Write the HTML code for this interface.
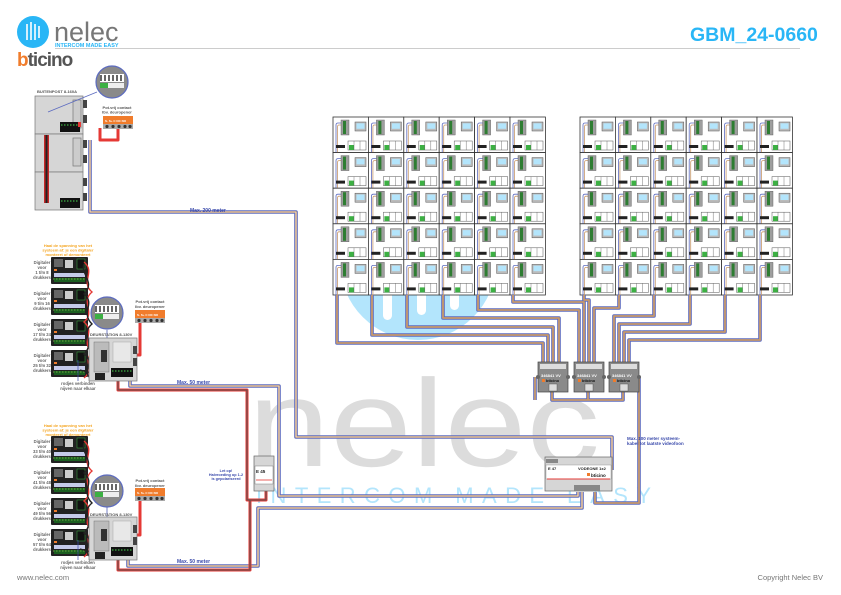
<!DOCTYPE html>
<html><head><meta charset="utf-8"><style>
html,body{margin:0;padding:0;background:#fff;width:841px;height:595px;overflow:hidden}
svg{display:block;font-family:"Liberation Sans",sans-serif}
</style></head><body>
<svg width="841" height="595" viewBox="0 0 841 595" xmlns="http://www.w3.org/2000/svg">
<defs>
<g id="cell">
  <rect x="0" y="0" width="35.4" height="35.6" fill="#fff" stroke="#333" stroke-width="0.8"/>
  <path d="M9 6 H5 Q3 6 3 8 V36" fill="none" stroke="#5c6bc0" stroke-width="0.8"/>
  <path d="M9 8 H6 Q4.5 8 4.5 10 V36" fill="none" stroke="#c8996b" stroke-width="0.8"/>
  <rect x="8" y="3" width="8" height="15" fill="#9e9e9e" stroke="#555" stroke-width="0.4"/>
  <rect x="10" y="4" width="3" height="13" fill="#2e7d32"/>
  <rect x="22" y="5" width="11" height="9" fill="#bbb" stroke="#555" stroke-width="0.5"/>
  <rect x="23.5" y="6.3" width="8" height="5.5" fill="#b3e5fc"/>
  <rect x="3" y="28" width="9" height="3" fill="#222"/>
  <rect x="15" y="24" width="18" height="9" fill="#fff" stroke="#555" stroke-width="0.5"/>
  <rect x="16" y="28" width="5" height="5" fill="#3cb043"/>
  <line x1="21" y1="24" x2="21" y2="33" stroke="#555" stroke-width="0.4"/>
  <line x1="27" y1="24" x2="27" y2="33" stroke="#555" stroke-width="0.4"/>
</g>
<g id="dig">
  <rect x="0" y="0" width="37" height="27" fill="#222" rx="1"/>
  <rect x="3" y="2" width="9" height="8" fill="#666"/>
  <rect x="14" y="3" width="8" height="8" fill="#ccc"/>
  <rect x="26" y="2" width="8" height="10" fill="#111" stroke="#3cb043" stroke-width="0.5"/>
  <rect x="3" y="12" width="3" height="2" fill="#f07c2c"/>
  <rect x="3" y="16" width="31" height="4" fill="#c5cae9"/>
  <rect x="3" y="21" width="31" height="4" fill="#1b5e20"/>
  <path d="M2 22 H35" stroke="#8bc34a" stroke-width="0.7" stroke-dasharray="1.5 1.5"/>
</g>
<g id="deur">
  <rect x="0" y="0" width="48" height="43" fill="#d6d6d6" stroke="#777" stroke-width="0.7"/>
  <rect x="5" y="4" width="15" height="30" fill="#bbb" stroke="#777" stroke-width="0.5"/>
  <rect x="12" y="12" width="6" height="12" fill="#333"/>
  <rect x="24" y="4" width="18" height="20" fill="#e8e8e8" stroke="#999" stroke-width="0.4"/>
  <rect x="44" y="8" width="4" height="8" fill="#444"/>
  <rect x="44" y="20" width="4" height="8" fill="#444"/>
  <rect x="22" y="30" width="22" height="9" fill="#111"/>
  <path d="M23 33 H43" stroke="#3cb043" stroke-width="1.2" stroke-dasharray="1.5 1.5"/>
  <rect x="6" y="35" width="10" height="7" fill="#222"/>
</g>
<g id="contact">
  <rect x="0" y="0" width="30" height="13" fill="#f07c2c"/>
  <rect x="0" y="8" width="30" height="5" fill="#aaa"/>
  <circle cx="4" cy="10.5" r="1.6" fill="#333"/><circle cx="10" cy="10.5" r="1.6" fill="#333"/><circle cx="16" cy="10.5" r="1.6" fill="#333"/><circle cx="22" cy="10.5" r="1.6" fill="#333"/><circle cx="27" cy="10.5" r="1.6" fill="#333"/>
  <text x="2" y="6" font-size="3" fill="#fff" font-weight="bold">S- S+ C NC NO</text>
</g>
<g id="mag">
  <circle cx="0" cy="0" r="16" fill="#8a8a8a" stroke="#5c6bc0" stroke-width="1.2"/>
  <rect x="-12" y="-8" width="24" height="8" fill="#fff"/>
  <path d="M-11 -7 v6 M-7 -7 v6 M-3 -7 v6 M1 -7 v6 M5 -7 v6 M9 -7 v6" stroke="#333" stroke-width="1.5"/>
  <rect x="-12" y="1" width="24" height="5" fill="#eee"/>
  <rect x="-12" y="1" width="8" height="5" fill="#3cb043"/>
</g>
<g id="dist">
  <rect x="0" y="0" width="30" height="30" fill="#8a8a8a" stroke="#444" stroke-width="0.7"/>
  <rect x="2" y="2" width="26" height="5" fill="#ddd"/>
  <text x="3" y="15" font-size="4" fill="#fff" font-weight="bold">346841 VV</text>
  <rect x="4" y="17" width="3" height="3" fill="#f07c2c"/>
  <text x="8" y="20" font-size="4" fill="#111" font-weight="bold">bticino</text>
  <rect x="11" y="22" width="8" height="7" fill="#ddd" stroke="#444" stroke-width="0.4"/>
  <circle cx="0" cy="15" r="2" fill="#666"/><circle cx="30" cy="15" r="2" fill="#666"/>
</g>
</defs>

<!-- watermark -->
<circle cx="418" cy="262" r="78" fill="#b3e5fc"/>
<rect x="383" y="270" width="9" height="50" rx="4.5" fill="#fff"/>
<rect x="417" y="270" width="9" height="45" rx="4.5" fill="#fff"/>
<rect x="450" y="270" width="9" height="40" rx="4.5" fill="#fff"/>
<text x="248" y="466" font-size="124" fill="#dcdcdc" textLength="352" lengthAdjust="spacingAndGlyphs">nelec</text>
<text x="256" y="503" font-size="22" fill="#b3e5fc" textLength="395" lengthAdjust="spacing">INTERCOM MADE EASY</text>

<!-- header -->
<circle cx="33" cy="32" r="16" fill="#29b6f6"/>
<path d="M27 24 v16 M31 22 v18 M35 24 v16 M39 26 v12" stroke="#fff" stroke-width="1.6"/>
<text x="54" y="41" font-size="27" fill="#777">nelec</text>
<text x="55" y="47" font-size="5.5" font-weight="bold" fill="#29b6f6">INTERCOM MADE EASY</text>
<line x1="55" y1="48.5" x2="800" y2="48.5" stroke="#bbb" stroke-width="0.8"/>
<text x="17" y="66" font-size="19" font-weight="bold" fill="#555" letter-spacing="-1"><tspan fill="#f07c2c">b</tspan>ticino</text>
<text x="690" y="41" font-size="19.5" font-weight="bold" fill="#29b6f6">GBM_24-0660</text>
<text x="17" y="580" font-size="7.5" fill="#777">www.nelec.com</text>
<text x="823" y="580" font-size="7.5" fill="#777" text-anchor="end">Copyright Nelec BV</text>

<!-- grids -->
<g>
<use href="#cell" x="333" y="117"/><use href="#cell" x="368.4" y="117"/><use href="#cell" x="403.8" y="117"/><use href="#cell" x="439.2" y="117"/><use href="#cell" x="474.6" y="117"/><use href="#cell" x="510" y="117"/>
<use href="#cell" x="333" y="152.6"/><use href="#cell" x="368.4" y="152.6"/><use href="#cell" x="403.8" y="152.6"/><use href="#cell" x="439.2" y="152.6"/><use href="#cell" x="474.6" y="152.6"/><use href="#cell" x="510" y="152.6"/>
<use href="#cell" x="333" y="188.2"/><use href="#cell" x="368.4" y="188.2"/><use href="#cell" x="403.8" y="188.2"/><use href="#cell" x="439.2" y="188.2"/><use href="#cell" x="474.6" y="188.2"/><use href="#cell" x="510" y="188.2"/>
<use href="#cell" x="333" y="223.8"/><use href="#cell" x="368.4" y="223.8"/><use href="#cell" x="403.8" y="223.8"/><use href="#cell" x="439.2" y="223.8"/><use href="#cell" x="474.6" y="223.8"/><use href="#cell" x="510" y="223.8"/>
<use href="#cell" x="333" y="259.4"/><use href="#cell" x="368.4" y="259.4"/><use href="#cell" x="403.8" y="259.4"/><use href="#cell" x="439.2" y="259.4"/><use href="#cell" x="474.6" y="259.4"/><use href="#cell" x="510" y="259.4"/>
</g>
<g>
<use href="#cell" x="580" y="117"/><use href="#cell" x="615.4" y="117"/><use href="#cell" x="650.8" y="117"/><use href="#cell" x="686.2" y="117"/><use href="#cell" x="721.6" y="117"/><use href="#cell" x="757" y="117"/>
<use href="#cell" x="580" y="152.6"/><use href="#cell" x="615.4" y="152.6"/><use href="#cell" x="650.8" y="152.6"/><use href="#cell" x="686.2" y="152.6"/><use href="#cell" x="721.6" y="152.6"/><use href="#cell" x="757" y="152.6"/>
<use href="#cell" x="580" y="188.2"/><use href="#cell" x="615.4" y="188.2"/><use href="#cell" x="650.8" y="188.2"/><use href="#cell" x="686.2" y="188.2"/><use href="#cell" x="721.6" y="188.2"/><use href="#cell" x="757" y="188.2"/>
<use href="#cell" x="580" y="223.8"/><use href="#cell" x="615.4" y="223.8"/><use href="#cell" x="650.8" y="223.8"/><use href="#cell" x="686.2" y="223.8"/><use href="#cell" x="721.6" y="223.8"/><use href="#cell" x="757" y="223.8"/>
<use href="#cell" x="580" y="259.4"/><use href="#cell" x="615.4" y="259.4"/><use href="#cell" x="650.8" y="259.4"/><use href="#cell" x="686.2" y="259.4"/><use href="#cell" x="721.6" y="259.4"/><use href="#cell" x="757" y="259.4"/>
</g>

<!-- bus cables -->
<g fill="none" stroke-linejoin="round">
 <g stroke="#5c6bc0" stroke-width="3.6">
  <path d="M337 295 V343 H543 V362"/>
  <path d="M372 295 V335 H548 V362"/>
  <path d="M407 295 V327 H553 V362"/>
  <path d="M443 295 V318 H559 V362"/>
  <path d="M478 295 V310 H579 V362"/>
  <path d="M513 295 V302 H584 V362"/>
  <path d="M584 295 V300 H589 V362"/>
  <path d="M619 295 V308 H594 V362"/>
  <path d="M654 295 V316 H614 V362"/>
  <path d="M690 295 V324 H619 V362"/>
  <path d="M725 295 V332 H624 V362"/>
  <path d="M760 295 V340 H629 V362"/>
  <path d="M552 392 V400 H623 V392 M588 392 V400"/>
  <path d="M535 377 V400 M639 377 V503 H595 V492"/>
  <path d="M90 140 V212 H296 V437 H612 V470"/>
  <path d="M130 380 V386 H279 V496 H578 V492"/>
  <path d="M128 560 V566 H258 V508 H582 V492"/>
 </g>
 <g stroke="#c8996b" stroke-width="1.8">
  <path d="M337 295 V343 H543 V362"/>
  <path d="M372 295 V335 H548 V362"/>
  <path d="M407 295 V327 H553 V362"/>
  <path d="M443 295 V318 H559 V362"/>
  <path d="M478 295 V310 H579 V362"/>
  <path d="M513 295 V302 H584 V362"/>
  <path d="M584 295 V300 H589 V362"/>
  <path d="M619 295 V308 H594 V362"/>
  <path d="M654 295 V316 H614 V362"/>
  <path d="M690 295 V324 H619 V362"/>
  <path d="M725 295 V332 H624 V362"/>
  <path d="M760 295 V340 H629 V362"/>
  <path d="M552 392 V400 H623 V392 M588 392 V400"/>
  <path d="M535 377 V400 M639 377 V503 H595 V492"/>
  <path d="M90 140 V212 H296 V437 H612 V470"/>
  <path d="M130 380 V386 H279 V496 H578 V492"/>
  <path d="M128 560 V566 H258 V508 H582 V492"/>
 </g>
 <g stroke="#fff" stroke-width="0.6">
  <path d="M90 140 V212 H296 V437 H612 V470"/>
  <path d="M130 380 V386 H279 V496 H578 V492"/>
  <path d="M128 560 V566 H258 V508 H582 V492"/>
 </g>
 <g stroke="#e53935" stroke-width="3">
  <path d="M118 378 V390 H247 V500 H266 V490"/>
  <path d="M118 558 V570 H250 V500"/>
  <path d="M100 128 V140 H118 V128"/>
  <path d="M140 322 V355 H135"/>
  <path d="M140 500 V535 H135"/>
 </g>
 <g stroke="#555" stroke-width="1">
  <path d="M118 378 V390 H247 V500 H266 V490"/>
  <path d="M118 558 V570 H250 V500"/>
 </g>
</g>

<!-- buitenpost -->
<text x="37" y="93" font-size="4" font-weight="bold" fill="#555">BUITENPOST 8-160A</text>
<g stroke="#777" stroke-width="0.7">
 <rect x="35" y="96" width="48" height="38" fill="#d6d6d6"/>
 <rect x="35" y="134" width="48" height="38" fill="#d6d6d6"/>
 <rect x="35" y="172" width="48" height="38" fill="#d6d6d6"/>
 <rect x="73" y="100" width="8" height="28" fill="#ccc"/>
 <rect x="73" y="138" width="8" height="28" fill="#ccc"/>
</g>
<rect x="83" y="100" width="4" height="8" fill="#444"/><rect x="83" y="115" width="4" height="8" fill="#444"/>
<rect x="83" y="140" width="4" height="8" fill="#444"/><rect x="83" y="155" width="4" height="8" fill="#444"/>
<rect x="83" y="178" width="4" height="8" fill="#444"/><rect x="83" y="193" width="4" height="8" fill="#444"/>
<rect x="60" y="122" width="20" height="10" fill="#111"/><path d="M61 125 H79" stroke="#3cb043" stroke-width="1.2" stroke-dasharray="1.5 1.5"/>
<rect x="60" y="198" width="20" height="10" fill="#111"/><path d="M61 201 H79" stroke="#3cb043" stroke-width="1.2" stroke-dasharray="1.5 1.5"/>
<rect x="44" y="135" width="5" height="68" fill="#c62828"/><rect x="45.5" y="135" width="2" height="68" fill="#222"/>
<rect x="78" y="122" width="3" height="5" fill="#e53935"/>
<line x1="48" y1="112" x2="97" y2="92" stroke="#5c6bc0" stroke-width="0.8"/>
<use href="#mag" x="112" y="82"/>
<text x="117" y="109" font-size="4" font-weight="bold" fill="#555" text-anchor="middle">Pot.vrij contact</text>
<text x="117" y="113.5" font-size="4" font-weight="bold" fill="#555" text-anchor="middle">Ibv. deuropener</text>
<use href="#contact" x="103" y="116"/>
<text x="190" y="212" font-size="5" font-weight="bold" fill="#3949ab">Max. 200 meter</text>

<!-- middle / lower sets -->
<g font-size="4" font-weight="bold" fill="#f5a623" text-anchor="middle">
<text x="68" y="247">Haal de spanning van het</text><text x="68" y="251.5">systeem af: je een digitaler</text><text x="68" y="256">monteert of demonteert</text>
<text x="68" y="427">Haal de spanning van het</text><text x="68" y="431.5">systeem af: je een digitaler</text><text x="68" y="436">monteert of demonteert</text>
</g>
<use href="#dig" x="51" y="257"/><use href="#dig" x="51" y="288"/><use href="#dig" x="51" y="319"/><use href="#dig" x="51" y="350"/>
<use href="#dig" x="51" y="436"/><use href="#dig" x="51" y="467"/><use href="#dig" x="51" y="498"/><use href="#dig" x="51" y="529"/>
<g fill="none" stroke-width="1.4">
 <path d="M84 262 C96 272 80 282 92 292 C80 302 96 312 84 322 C96 332 80 342 92 352 C82 362 96 368 84 378" stroke="#e53935"/>
 <path d="M84 264 C80 274 96 282 84 294 C96 304 80 312 92 324 C80 334 96 342 84 354 C96 362 82 370 90 378" stroke="#222"/>
 <path d="M84 441 C96 451 80 461 92 471 C80 481 96 491 84 501 C96 511 80 521 92 531 C82 541 96 547 84 557" stroke="#e53935"/>
 <path d="M84 443 C80 453 96 461 84 473 C96 483 80 491 92 503 C80 513 96 521 84 533 C96 541 82 549 90 557" stroke="#222"/>
 <path d="M80 370 L110 378 M80 549 L110 557" stroke="#222"/>
</g>
<g font-size="4.2" font-weight="bold" fill="#666" text-anchor="middle">
<text x="42" y="264">Digitaler</text><text x="42" y="269">voor</text><text x="42" y="274">1 t/m 8</text><text x="42" y="279">drukkers</text>
<text x="42" y="295">Digitaler</text><text x="42" y="300">voor</text><text x="42" y="305">9 t/m 16</text><text x="42" y="310">drukkers</text>
<text x="42" y="326">Digitaler</text><text x="42" y="331">voor</text><text x="42" y="336">17 t/m 24</text><text x="42" y="341">drukkers</text>
<text x="42" y="357">Digitaler</text><text x="42" y="362">voor</text><text x="42" y="367">25 t/m 32</text><text x="42" y="372">drukkers</text>
<text x="42" y="443">Digitaler</text><text x="42" y="448">voor</text><text x="42" y="453">33 t/m 40</text><text x="42" y="458">drukkers</text>
<text x="42" y="474">Digitaler</text><text x="42" y="479">voor</text><text x="42" y="484">41 t/m 48</text><text x="42" y="489">drukkers</text>
<text x="42" y="505">Digitaler</text><text x="42" y="510">voor</text><text x="42" y="515">49 t/m 56</text><text x="42" y="520">drukkers</text>
<text x="42" y="536">Digitaler</text><text x="42" y="541">voor</text><text x="42" y="546">57 t/m 64</text><text x="42" y="551">drukkers</text>
<text x="78" y="385">rodjes verbinden</text><text x="78" y="390">nijven naar elkaar</text>
<text x="78" y="564">rodjes verbinden</text><text x="78" y="569">nijven naar elkaar</text>
</g>
<line x1="78" y1="360" x2="78" y2="381" stroke="#3949ab" stroke-width="0.7"/>
<line x1="78" y1="540" x2="78" y2="560" stroke="#3949ab" stroke-width="0.7"/>
<line x1="107" y1="330" x2="107" y2="345" stroke="#3949ab" stroke-width="0.7"/>
<line x1="107" y1="507" x2="107" y2="525" stroke="#3949ab" stroke-width="0.7"/>
<use href="#mag" x="107" y="313"/>
<use href="#mag" x="107" y="491"/>
<text x="90" y="336" font-size="4" font-weight="bold" fill="#555">DEURSTATION 8-130V</text>
<text x="90" y="516" font-size="4" font-weight="bold" fill="#555">DEURSTATION 8-130V</text>
<use href="#deur" x="89" y="338"/>
<use href="#deur" x="89" y="517"/>
<text x="150" y="303" font-size="4" font-weight="bold" fill="#555" text-anchor="middle">Pot.vrij contact</text>
<text x="150" y="308" font-size="4" font-weight="bold" fill="#555" text-anchor="middle">Ibv. deuropener</text>
<use href="#contact" x="135" y="310"/>
<text x="150" y="482" font-size="4" font-weight="bold" fill="#555" text-anchor="middle">Pot.vrij contact</text>
<text x="150" y="487" font-size="4" font-weight="bold" fill="#555" text-anchor="middle">Ibv. deuropener</text>
<use href="#contact" x="135" y="488"/>
<text x="177" y="384" font-size="5" font-weight="bold" fill="#3949ab">Max. 50 meter</text>
<text x="177" y="563" font-size="5" font-weight="bold" fill="#3949ab">Max. 50 meter</text>

<!-- power supply -->
<rect x="254" y="456" width="20" height="35" fill="#d6d6d6" stroke="#666" stroke-width="0.7"/>
<rect x="255" y="466" width="18" height="18" fill="#fff" stroke="#666" stroke-width="0.4"/>
<text x="256" y="473" font-size="4.5" font-weight="bold" fill="#222">E 45</text>
<line x1="256" y1="480" x2="272" y2="480" stroke="#e53935" stroke-width="0.8"/>
<g font-size="3.8" font-weight="bold" fill="#3949ab" text-anchor="middle">
<text x="226" y="472">Let op!</text><text x="226" y="476">Halvroeding op 1-2</text><text x="226" y="480">is gepolariseerd</text>
</g>

<!-- distributors -->
<use href="#dist" x="538" y="362"/>
<use href="#dist" x="574" y="362"/>
<use href="#dist" x="609" y="362"/>

<!-- video box -->
<rect x="545" y="457" width="67" height="34" fill="#d6d6d6" stroke="#666" stroke-width="0.7"/>
<rect x="546" y="459" width="12" height="4" fill="#888"/>
<rect x="546" y="465" width="65" height="14" fill="#fff" stroke="#888" stroke-width="0.4"/>
<text x="548" y="470" font-size="4" font-weight="bold" fill="#222">E 47</text>
<text x="578" y="470" font-size="4" font-weight="bold" fill="#222">VODEONE 1x2</text>
<rect x="587" y="473" width="3" height="3" fill="#f07c2c"/>
<text x="591" y="477" font-size="4.5" font-weight="bold" fill="#111">bticino</text>
<line x1="547" y1="479" x2="610" y2="479" stroke="#e53935" stroke-width="1"/>
<rect x="574" y="485" width="26" height="6" fill="#888"/>
<text x="627" y="440" font-size="4.5" font-weight="bold" fill="#3949ab">Max. 100 meter systeem-</text>
<text x="627" y="445" font-size="4.5" font-weight="bold" fill="#3949ab">kabel tot laatste videofoon</text>
</svg>
</body></html>
